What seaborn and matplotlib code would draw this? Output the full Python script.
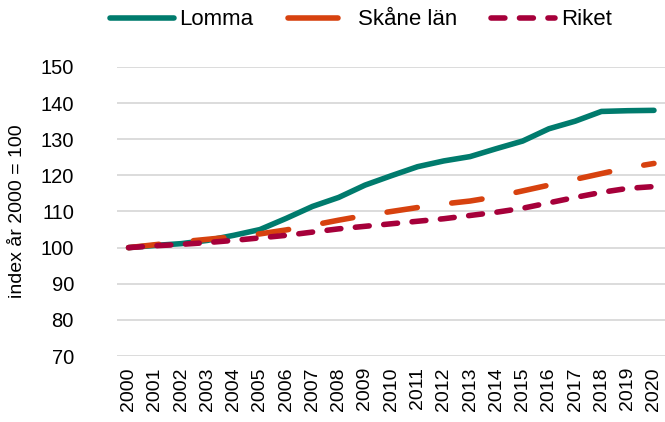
import pandas as pd
import seaborn as sns
import matplotlib.pyplot as plt
from matplotlib.lines import Line2D

# Index values, year 2000 = 100
years = list(range(2000, 2021))
lomma = [100, 100.6, 101.1, 102.0, 103.4, 105.0, 108.1, 111.4, 113.9, 117.3, 119.9,
         122.4, 124.0, 125.2, 127.4, 129.5, 132.9, 135.0, 137.7, 137.9, 138.0]
skane = [100, 100.8, 101.6, 102.3, 103.0, 103.8, 104.9, 106.2, 107.6, 108.9, 110.0,
         111.1, 112.1, 112.9, 114.1, 115.7, 117.3, 118.9, 120.5, 122.1, 123.3]
riket = [100, 100.5, 100.9, 101.4, 102.0, 102.7, 103.4, 104.3, 105.2, 105.9, 106.6,
         107.3, 108.0, 108.9, 109.8, 110.9, 112.4, 113.9, 115.3, 116.4, 116.9]

df = pd.DataFrame({'År': years, 'Lomma': lomma, 'Skåne län': skane, 'Riket': riket})

sns.set_style("white")
plt.rcParams['font.family'] = ['Liberation Sans', 'DejaVu Sans']
plt.rcParams['lines.scale_dashes'] = False
plt.rcParams['text.color'] = 'black'
plt.rcParams['axes.labelcolor'] = 'black'
plt.rcParams['xtick.color'] = 'black'
plt.rcParams['ytick.color'] = 'black'

fig = plt.figure(figsize=(6.65, 4.22), dpi=100)
ax = fig.add_axes([117 / 665, 66 / 422, 548 / 665, 289 / 422])

styles = {
    'Lomma': dict(color='#007B6D', dashes='', leg=''),
    'Skåne län': dict(color='#D7420F', dashes=(22, 25), leg=(36, 100)),
    'Riket': dict(color='#A6003A', dashes=(10, 10.5), leg=(10, 10.5)),
}
handles = []
for name, st in styles.items():
    sns.lineplot(x='År', y=name, data=df, ax=ax, color=st['color'],
                 dashes=st['dashes'], linewidth=4, solid_capstyle='round',
                 dash_capstyle='round')
    h = Line2D([], [], color=st['color'], linewidth=4, solid_capstyle='round',
               dash_capstyle='round', label=name)
    if st['leg']:
        h.set_dashes(st['leg'])
    handles.append(h)

ax.set_ylim(70, 150)
ax.set_yticks(range(70, 151, 10))
ax.set_xlim(1999.56, 2020.42)
ax.set_xticks(years)
ax.set_xticklabels([str(y) for y in years], rotation=90, fontsize=14)
ax.tick_params(axis='y', labelsize=14.5, length=0, pad=31)
ax.tick_params(axis='x', length=0, pad=8)
ax.set_xlabel('')
ax.set_ylabel('index år 2000 = 100', fontsize=14)
ax.yaxis.set_label_coords(-91 / 548, 0.5)
ax.grid(axis='y', color='#d9d9d9', linewidth=1.3)
ax.set_axisbelow(True)
sns.despine(ax=ax, left=True, bottom=True, top=True, right=True)

ax.legend(handles=handles, loc='center left', bbox_to_anchor=(-0.05, 1.163), ncol=3,
          frameon=False, fontsize=16, handlelength=2.88, handletextpad=0.27,
          columnspacing=1.53)

plt.savefig('out.png', dpi=100)
